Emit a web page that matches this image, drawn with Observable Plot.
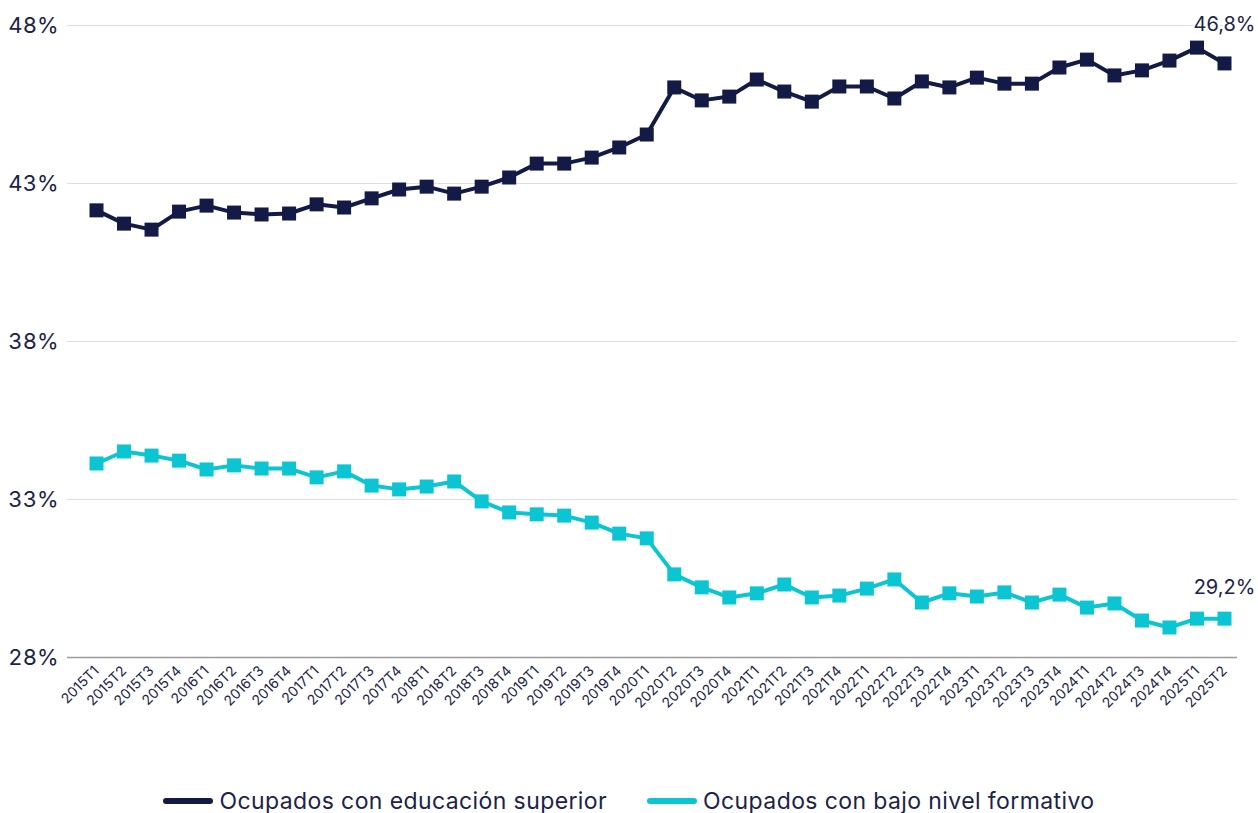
<!DOCTYPE html>
<html>
<head>
<meta charset="utf-8">
<script src="https://cdn.jsdelivr.net/npm/d3@7"></script>
<script src="https://cdn.jsdelivr.net/npm/@observablehq/plot@0.6"></script>
<style>
  body { margin: 0; background: #fff; font-family: Inter, "Noto Sans", sans-serif; overflow: hidden; }
  #legend { display: flex; justify-content: center; align-items: center; gap: 40px; margin-top: 17px; font-size: 23px; letter-spacing: 0.4px; color: #1c2348; line-height: 28px; }
  .item { display: flex; align-items: center; gap: 6px; }
  .sw { width: 50px; height: 6px; border-radius: 3px; display: inline-block; }
</style>
</head>
<body>
<div id="chart"></div>
<div id="legend"></div>
<script>
const periods = ["2015T1","2015T2","2015T3","2015T4","2016T1","2016T2","2016T3","2016T4",
  "2017T1","2017T2","2017T3","2017T4","2018T1","2018T2","2018T3","2018T4",
  "2019T1","2019T2","2019T3","2019T4","2020T1","2020T2","2020T3","2020T4",
  "2021T1","2021T2","2021T3","2021T4","2022T1","2022T2","2022T3","2022T4",
  "2023T1","2023T2","2023T3","2023T4","2024T1","2024T2","2024T3","2024T4",
  "2025T1","2025T2"];
const superior = [42.15,41.73,41.54,42.11,42.30,42.08,42.02,42.05,
  42.34,42.24,42.53,42.81,42.90,42.68,42.90,43.19,
  43.63,43.63,43.82,44.14,44.55,46.04,45.63,45.75,
  46.29,45.91,45.59,46.07,46.07,45.69,46.23,46.04,
  46.35,46.16,46.16,46.67,46.92,46.42,46.58,46.89,
  47.30,46.80];
const bajo = [34.14,34.52,34.39,34.23,33.95,34.08,33.98,33.98,
  33.70,33.89,33.44,33.32,33.41,33.57,32.94,32.59,
  32.53,32.49,32.27,31.92,31.77,30.63,30.22,29.90,
  30.03,30.31,29.90,29.96,30.18,30.47,29.74,30.03,
  29.93,30.06,29.74,29.99,29.58,29.71,29.17,28.95,
  29.23,29.23];
const seriesNames = ["Ocupados con educación superior", "Ocupados con bajo nivel formativo"];
const seriesColors = ["#131a45", "#0bc5d3"];
const yTicks = [28, 33, 38, 43, 48];
const endLabels = ["46,8%", "29,2%"];

const data = [];
[superior, bajo].forEach((vals, s) => {
  vals.forEach((v, i) => data.push({period: periods[i], value: v, series: seriesNames[s]}));
});
const lastPoints = [superior, bajo].map((vals, s) => ({
  period: periods[periods.length - 1], value: vals[vals.length - 1], series: seriesNames[s], label: endLabels[s]
}));

const textColor = "#1c2348";
const chart = Plot.plot({
  width: 1258,
  height: 770,
  marginTop: 25,
  marginBottom: 113,
  marginLeft: 67,
  marginRight: 21,
  style: { fontFamily: "Inter, 'Noto Sans', sans-serif", color: textColor, background: "#fff" },
  x: { type: "point", domain: periods, padding: 0, round: false, range: [96, 1224], label: null },
  y: { domain: [28, 48], label: null },
  color: { domain: seriesNames, range: seriesColors },
  marks: [
    Plot.ruleY(yTicks.filter(t => t !== 28), { stroke: "#dedede", strokeWidth: 1.2 }),
    Plot.ruleY([28], { stroke: "#9a9a9a", strokeWidth: 1.5 }),
    Plot.axisY({ ticks: yTicks, tickSize: 0, tickPadding: 9, tickFormat: d => d + "%", fontSize: 22, fill: textColor }),
    Plot.axisX({ tickSize: 0, tickPadding: 11, tickRotate: -45, fontSize: 14, fill: textColor }),
    Plot.line(data, { x: "period", y: "value", z: "series", stroke: "series", strokeWidth: 4 }),
    Plot.dot(data, { x: "period", y: "value", fill: "series", symbol: "square", r: 7.9 }),
    Plot.text(lastPoints.slice(0, 1), { x: "period", y: "value", text: "label", dy: -39, fontSize: 20, fill: textColor, stroke: "#fff", strokeWidth: 4, paintOrder: "stroke" }),
    Plot.text(lastPoints.slice(1), { x: "period", y: "value", text: "label", dy: -31, fontSize: 20, fill: textColor })
  ]
});
document.getElementById("chart").appendChild(chart);

const legend = document.getElementById("legend");
seriesNames.forEach((name, i) => {
  const item = document.createElement("div");
  item.className = "item";
  const sw = document.createElement("span");
  sw.className = "sw";
  sw.style.background = seriesColors[i];
  const label = document.createElement("span");
  label.textContent = name;
  item.appendChild(sw);
  item.appendChild(label);
  legend.appendChild(item);
});
</script>
</body>
</html>
